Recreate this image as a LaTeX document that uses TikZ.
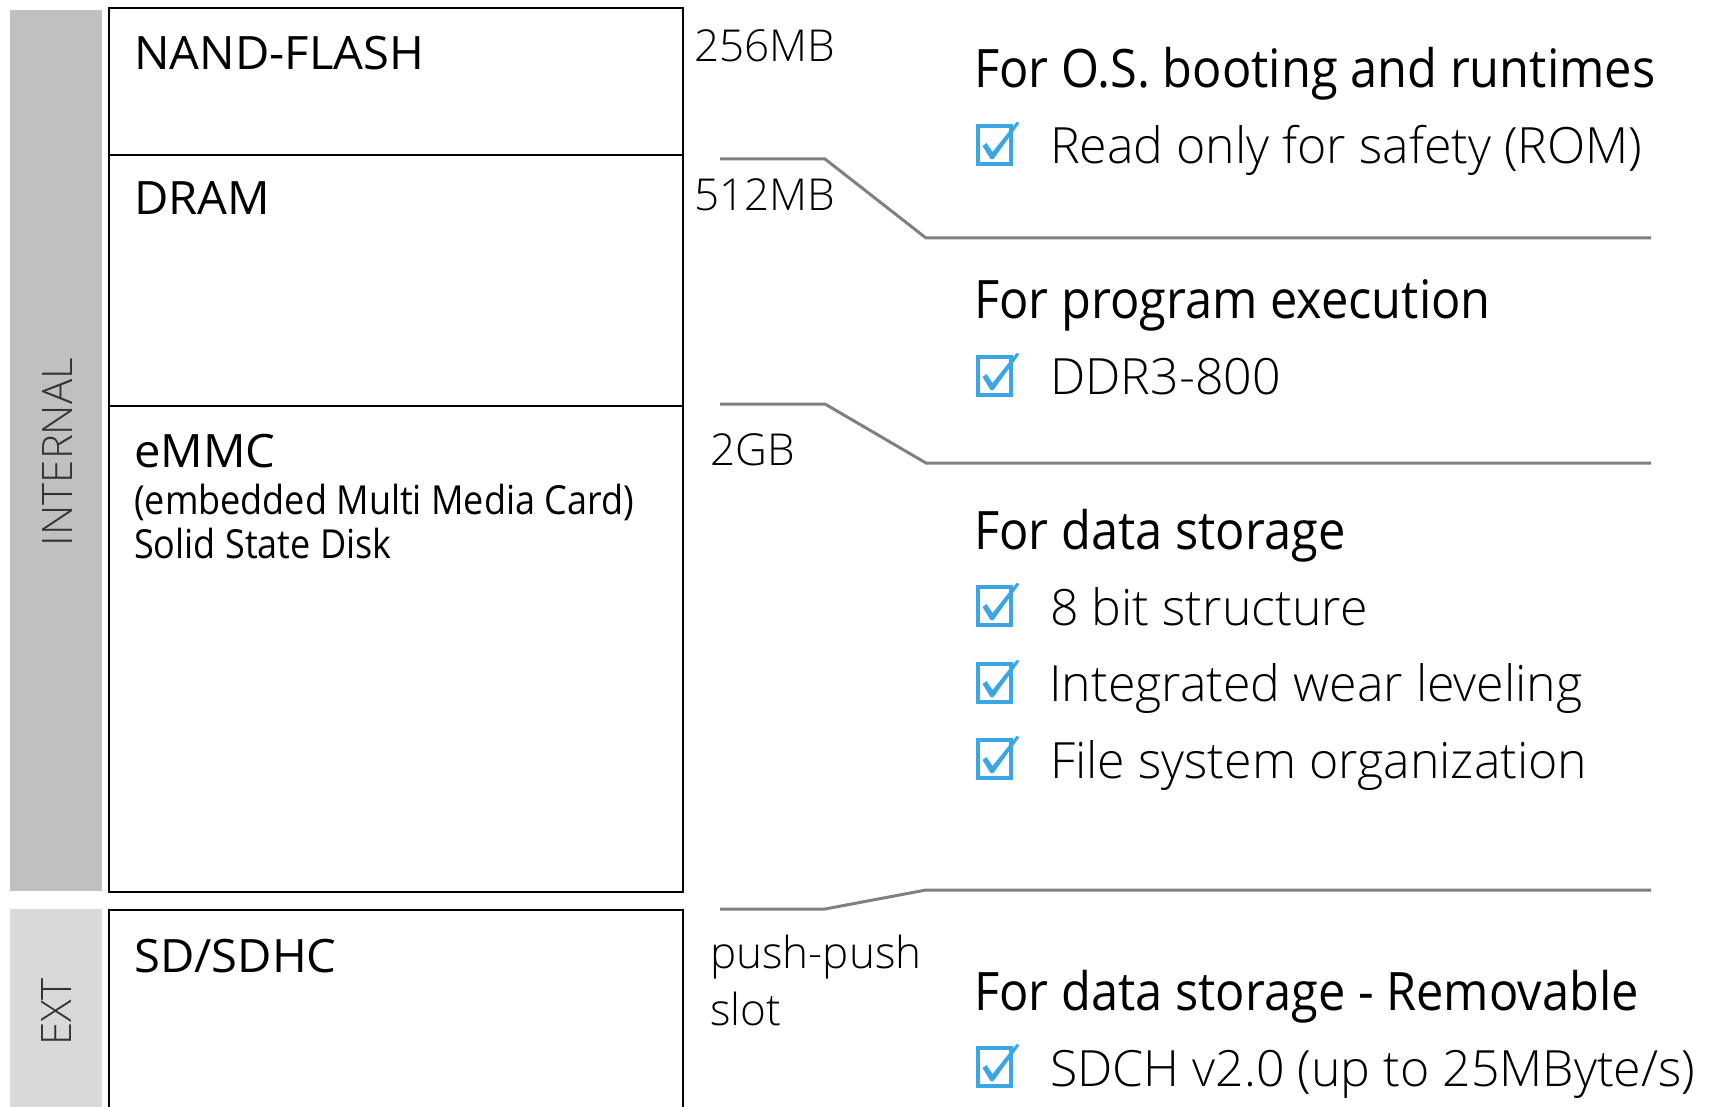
\documentclass[tikz,border=0pt]{standalone}
\usepackage{fontspec}
\setmainfont{Open Sans}
\newfontfamily\lightfont{Open Sans Light}
\newfontfamily\headfont{Open Sans}[FakeStretch=0.92]
\newfontfamily\subfont{Open Sans}[FakeStretch=0.9]
\newfontfamily\lblfont{Open Sans}[FakeStretch=1.025]
\definecolor{barint}{HTML}{C0C0C0}
\definecolor{barext}{HTML}{D9D9D9}
\definecolor{brk}{HTML}{808080}
\definecolor{cblue}{HTML}{3BA6E6}
\definecolor{sidetxt}{HTML}{333333}
\newcommand\chkbox[3]{%
  \node[cbx] (#1) at (#2,#3) {};
  \fill[cblue, shift={(#1.center)}] (-12,1) -- (-8,-2) -- (-2,7) -- (22,-23) -- (25,-22) -- (-1,14) -- (-4,14) -- cycle;
}
\begin{document}
\begin{tikzpicture}[x=1pt,y=-1pt,
  mem/.style={draw=black, line width=2pt, anchor=north west, inner sep=0, minimum width=574pt},
  bar/.style={anchor=north west, inner sep=0, minimum width=92pt},
  lbl/.style={anchor=base west, inner sep=0, font=\lblfont\fontsize{46}{50}\selectfont},
  sub/.style={anchor=base west, inner sep=0, font=\subfont\fontsize{40}{44}\selectfont},
  num/.style={anchor=base west, inner sep=0, font=\lightfont\fontsize{44}{50}\selectfont},
  head/.style={anchor=base west, inner sep=0, font=\headfont\fontsize{53}{58}\selectfont},
  item/.style={anchor=base west, inner sep=0, font=\lightfont\fontsize{50}{55}\selectfont},
  side/.style={rotate=90, inner sep=0, text=sidetxt, font=\lightfont\fontsize{42}{46}\selectfont},
  cbx/.style={draw=cblue, line width=4pt, minimum width=33pt, minimum height=38pt, inner sep=0},
  brkline/.style={draw=brk, line width=3pt},
]
\useasboundingbox (0,0) rectangle (1709,1107);
% side bars
\node[bar, fill=barint, minimum height=881pt] (intbar) at (10,10) {};
\node[bar, fill=barext, minimum height=210pt] (extbar) at (10,909) {};
\node[side] (inttxt) at (57,452) {INTERNAL};
\node[side] (exttxt) at (57,1012) {EXT};
% memory boxes
\node[mem, minimum height=147pt] (nand) at (108,7) {};
\node[mem, minimum height=251pt] (dram) at (108,154) {};
\node[mem, minimum height=486pt] (emmc) at (108,405) {};
\node[mem, minimum height=210pt] (sd) at (108,909) {};
% box labels
\node[lbl] (nandl) at (134,70) {NAND-FLASH};
\node[lbl] (draml) at (134,215) {DRAM};
\node[lbl] (emmcl) at (134,467) {eMMC};
\node[sub] (emmcs1) at (134,514) {(embedded Multi Media Card)};
\node[sub] (emmcs2) at (134,558) {Solid State Disk};
\node[lbl] (sdl) at (134,972) {SD/SDHC};
% sizes
\node[num] (n256) at (694,62) {256MB};
\node[num] (n512) at (694,211) {512MB};
\node[num] (n2g) at (710,465) {2GB};
\node[num] (npp1) at (710,968) {push-push};
\node[num] (npp2) at (710,1025) {slot};
% bracket lines
\coordinate (a1) at (720,159); \coordinate (a2) at (825,159); \coordinate (a3) at (926,238); \coordinate (a4) at (1651,238);
\coordinate (b1) at (720,404); \coordinate (b2) at (825,404); \coordinate (b3) at (926,463); \coordinate (b4) at (1651,463);
\coordinate (c1) at (720,909); \coordinate (c2) at (825,909); \coordinate (c3) at (926,890); \coordinate (c4) at (1651,890);
\draw[brkline] (a1) -- (a2) -- (a3) -- (a4);
\draw[brkline] (b1) -- (b2) -- (b3) -- (b4);
\draw[brkline] (c1) -- (c2) -- (c3) -- (c4);
% right column
\node[head] (h1) at (974,88) {For O.S. booting and runtimes};
\chkbox{k1}{994.5}{145}
\node[item] (i1) at (1050,164) {Read only for safety (ROM)};
\node[head] (h2) at (974,319) {For program execution};
\chkbox{k2}{994.5}{376}
\node[item] (i2) at (1050,395) {DDR3-800};
\node[head] (h3) at (974,549) {For data storage};
\chkbox{k3}{994.5}{606}
\node[item] (i3) at (1050,625) {8 bit structure};
\chkbox{k4}{994.5}{683}
\node[item] (i4) at (1049,701) {Integrated wear leveling};
\chkbox{k5}{994.5}{759}
\node[item] (i5) at (1050,778) {File system organization};
\node[head] (h4) at (974,1010) {For data storage - Removable};
\chkbox{k6}{994.5}{1067}
\node[item] (i6) at (1050,1086) {SDCH v2.0 (up to 25MByte/s)};
\end{tikzpicture}
\end{document}
